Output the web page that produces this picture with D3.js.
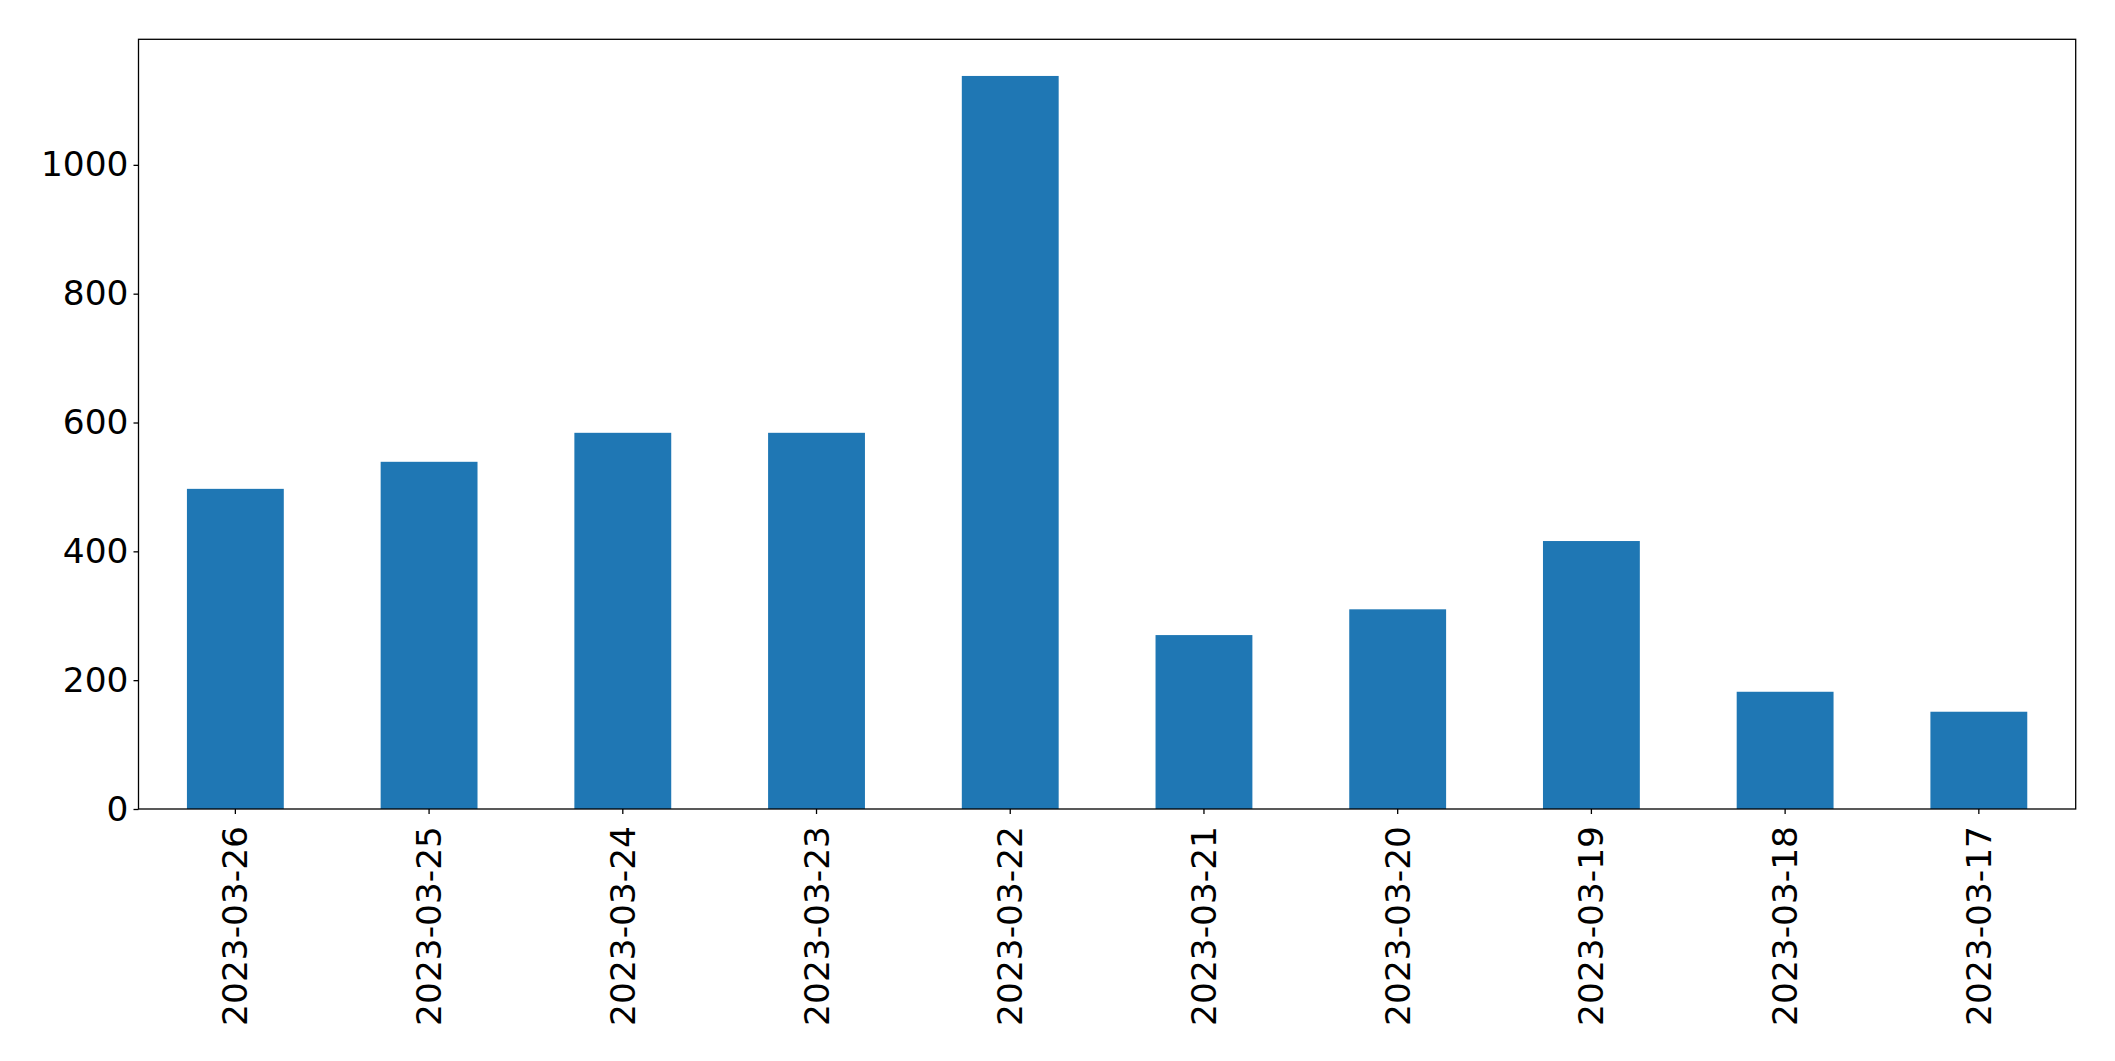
<!DOCTYPE html>
<html>
<head>
<meta charset="utf-8">
<script src="https://cdn.jsdelivr.net/npm/d3@7/dist/d3.min.js"></script>
<style>
  html, body { margin: 0; padding: 0; background: #fff; }
  svg { display: block; }
</style>
</head>
<body>
<svg id="chart" width="2115" height="1061"></svg>
<script>
const categories = ["2023-03-26","2023-03-25","2023-03-24","2023-03-23","2023-03-22","2023-03-21","2023-03-20","2023-03-19","2023-03-18","2023-03-17"];
const values = [497, 539, 584, 584, 1138, 270, 310, 416, 182, 151];
const yTicks = [0, 200, 400, 600, 800, 1000];

const margin = {left: 138.5, right: 2115 - 2075.7, top: 39.3, bottom: 1061 - 809};
const W = 2115, H = 1061;
const svg = d3.select("#chart");
const fontFamily = "'DejaVu Sans', sans-serif";
const fontSize = 34.4;

const x = d3.scaleBand()
  .domain(categories)
  .range([margin.left, W - margin.right])
  .paddingInner(0.5)
  .paddingOuter(0.25);

const yMax = d3.max(values) * 1.05;
const y = d3.scaleLinear()
  .domain([0, yMax])
  .range([H - margin.bottom, margin.top]);

// bars
svg.append("g")
  .selectAll("rect")
  .data(values)
  .join("rect")
  .attr("x", (d, i) => x(categories[i]))
  .attr("width", x.bandwidth())
  .attr("y", d => y(d))
  .attr("height", d => y(0) - y(d))
  .attr("fill", "#1f77b4");

// y axis
const yAxis = d3.axisLeft(y).tickValues(yTicks).tickSize(5).tickPadding(5).tickFormat(d3.format("d"));
const gy = svg.append("g")
  .attr("transform", `translate(${margin.left},0)`)
  .call(yAxis);
gy.select(".domain").remove();
gy.selectAll(".tick line").attr("stroke", "#000").attr("stroke-width", 1.3);
gy.selectAll(".tick text")
  .attr("font-family", fontFamily)
  .attr("font-size", fontSize)
  .attr("fill", "#000");

// x axis
const xAxis = d3.axisBottom(x).tickSize(5).tickPadding(0);
const gx = svg.append("g")
  .attr("transform", `translate(0,${H - margin.bottom})`)
  .call(xAxis);
gx.select(".domain").remove();
gx.selectAll(".tick line").attr("stroke", "#000").attr("stroke-width", 1.3);
gx.selectAll(".tick text")
  .attr("font-family", fontFamily)
  .attr("font-size", fontSize)
  .attr("fill", "#000")
  .attr("text-anchor", "end")
  .attr("transform", "translate(0,17) rotate(-90)")
  .attr("x", 0)
  .attr("y", 0)
  .attr("dy", "0.35em");

// frame
svg.append("rect")
  .attr("x", margin.left)
  .attr("y", margin.top)
  .attr("width", W - margin.right - margin.left)
  .attr("height", H - margin.bottom - margin.top)
  .attr("fill", "none")
  .attr("stroke", "#000")
  .attr("stroke-width", 1.3);
</script>
</body>
</html>
